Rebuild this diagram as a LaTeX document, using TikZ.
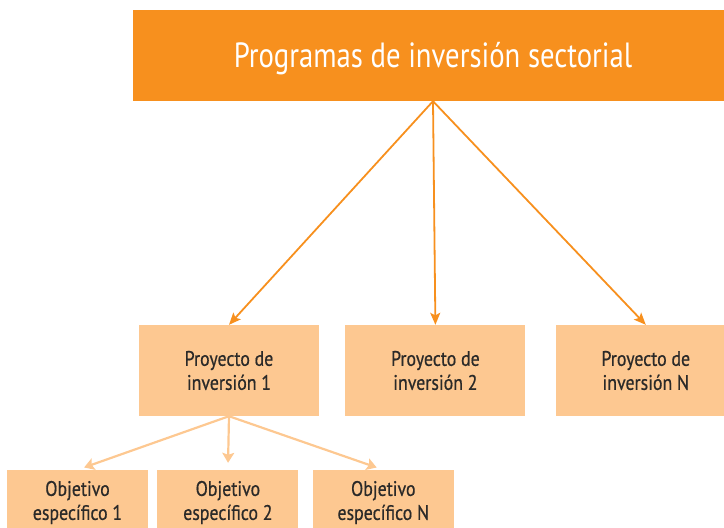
\documentclass[tikz,border=0pt]{standalone}
\usepackage{fontspec}
\setmainfont{PT Sans}[FakeStretch=0.82]
\newfontfamily\cajafont{PT Sans}[FakeStretch=0.85, FakeBold=0.6]
\usepackage{tikz}
\usepackage{xcolor}
\usetikzlibrary{positioning, calc, arrows.meta}

\definecolor{naranja}{HTML}{F7901E}
\definecolor{durazno}{HTML}{FDC891}
\definecolor{texto}{HTML}{2B2A29}

\begin{document}
\begin{tikzpicture}[x=1pt, y=-1pt,
		prog/.style={rectangle, fill=naranja, text=white, minimum width=600pt, minimum height=91pt, inner sep=0pt, text height=24pt, text depth=0pt, font=\fontsize{35}{38}\selectfont},
		proy/.style={rectangle, fill=durazno, text=texto, align=center, minimum width=180pt, minimum height=91pt, inner sep=0pt, font=\cajafont\fontsize{21}{24}\selectfont},
		obj/.style={rectangle, fill=durazno, text=texto, align=center, minimum width=141pt, minimum height=65pt, inner sep=0pt, font=\cajafont\fontsize{21}{24}\selectfont},
		arrow/.style={-{Stealth[length=12pt, width=10pt, inset=2.5pt]}, naranja, line width=1.8pt},
		subarrow/.style={-{Stealth[length=10pt, width=12pt, inset=2pt]}, durazno, line width=2.2pt, shorten >= 7pt}]
	\useasboundingbox (0,0) rectangle (724,528);
	\clip (0,0) rectangle (724,528);
	\node[prog] (0) at (433,55.5) {Programas de inversión sectorial};
	\node[proy] (1) at (229,370.5) {Proyecto de\\ inversión 1};
	\node[proy, right = 26pt of 1] (2) {Proyecto de\\ inversión 2};
	\node[proy, right = 30pt of 2] (3) {Proyecto de\\ inversión N};
	\node[obj] (4) at (77.5,502.5) {Objetivo\\ específico 1};
	\node[obj, right = 9pt of 4] (5) {Objetivo\\ específico 2};
	\node[obj, right = 14pt of 5] (6) {Objetivo\\ específico N};

	\draw[arrow] (0.south) -- (1.north);
	\draw[arrow] (0.south) -- (2.north);
	\draw[arrow] (0.south) -- (3.north);
	\draw[subarrow] (1.south) -- (4.north);
	\draw[subarrow] (1.south) -- (5.north);
	\draw[subarrow] (1.south) -- (6.north);
\end{tikzpicture}
\end{document}
